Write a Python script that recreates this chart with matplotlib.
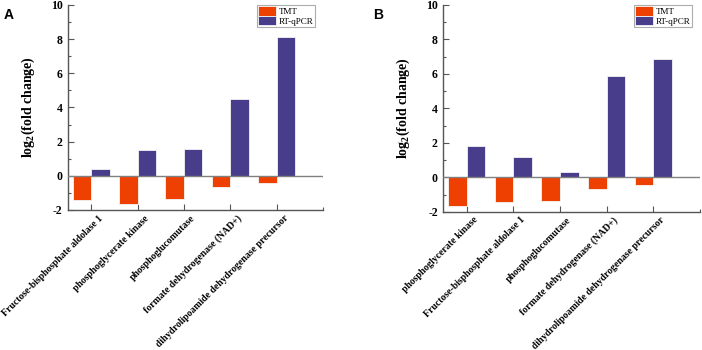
import numpy as np
import matplotlib
matplotlib.use("Agg")
import matplotlib.pyplot as plt
import matplotlib.transforms as mtransforms
from matplotlib.ticker import MultipleLocator, FixedLocator

# Panel A data
genes_a = ["Fructose-bisphosphate aldolase 1", "phosphoglycerate kinase",
           "phosphoglucomutase", "formate dehydrogenase (NAD+)",
           "dihydrolipoamide dehydrogenase precursor"]
tmt_a = [-1.40, -1.64, -1.36, -0.66, -0.43]
qpcr_a = [0.39, 1.50, 1.58, 4.48, 8.13]

# Panel B data
genes_b = ["phosphoglycerate kinase", "Fructose-bisphosphate aldolase 1",
           "phosphoglucomutase", "formate dehydrogenase (NAD+)",
           "dihydrolipoamide dehydrogenase precursor"]
tmt_b = [-1.66, -1.41, -1.37, -0.66, -0.43]
qpcr_b = [1.82, 1.18, 0.31, 5.86, 6.89]

serif = "Liberation Serif"
c_tmt = "#EE4000"
c_qpcr = "#483D8B"

plt.rcParams["axes.unicode_minus"] = False
plt.rcParams["mathtext.fontset"] = "custom"
plt.rcParams["mathtext.rm"] = "Liberation Serif:bold"
plt.rcParams["mathtext.it"] = "Liberation Serif:bold"
plt.rcParams["mathtext.bf"] = "Liberation Serif:bold"

fig = plt.figure(figsize=(7.02, 3.5), dpi=100)
ax_a = fig.add_axes([0.097, 0.40, 0.363, 0.586])
ax_b = fig.add_axes([0.6315, 0.395, 0.3655, 0.591])


def draw(ax, genes, tmt, qpcr):
    x = np.arange(1, len(genes) + 1)
    w = 0.4
    ax.bar(x - w / 2, tmt, w, color=c_tmt, edgecolor="#f4f4f4", linewidth=0.6, label="TMT", zorder=2)
    ax.bar(x + w / 2, qpcr, w, color=c_qpcr, edgecolor="#f4f4f4", linewidth=0.6, label="RT-qPCR", zorder=2)
    ax.axhline(0, color="#808080", linewidth=1.0, zorder=3)
    ax.set_xlim(0.5, 6.0)
    ax.set_ylim(-2, 10)
    for s in ["top", "right"]:
        ax.spines[s].set_visible(False)
    for s in ["left", "bottom"]:
        ax.spines[s].set_color("#555555")
        ax.spines[s].set_linewidth(1.0)
    ax.yaxis.set_major_locator(MultipleLocator(2))
    ax.yaxis.set_minor_locator(MultipleLocator(1))
    ax.set_xticks(x)
    ax.xaxis.set_minor_locator(FixedLocator([6.0]))
    ax.tick_params(axis="both", which="major", direction="in", length=4, width=0.8, color="#555555")
    ax.tick_params(axis="y", which="major", pad=4)
    ax.tick_params(axis="both", which="minor", direction="in", length=2.5, width=0.8, color="#555555")
    ax.set_xticklabels(genes, rotation=45, ha="right", va="center", rotation_mode="anchor",
                       fontsize=7, fontweight="bold", family=serif)
    offset = mtransforms.ScaledTranslation(0.10, -0.02, fig.dpi_scale_trans)
    for lab in ax.get_xticklabels():
        lab.set_transform(lab.get_transform() + offset)
    for lab in ax.get_yticklabels():
        lab.set_fontsize(8.5)
        lab.set_fontweight("bold")
        lab.set_family(serif)
    ax.set_ylabel("log$_2$(fold change)", fontsize=10, fontweight="bold", family=serif, labelpad=10)
    leg = ax.legend(loc="upper right", bbox_to_anchor=(0.97, 1.0), prop={"family": serif, "size": 6.5},
                    frameon=True, fancybox=False, edgecolor="#999999", borderpad=0.15,
                    handlelength=2.0, handleheight=1.2, handletextpad=0.3, labelspacing=0.0,
                    borderaxespad=0.0)
    leg.get_frame().set_linewidth(0.8)


draw(ax_a, genes_a, tmt_a, qpcr_a)
draw(ax_b, genes_b, tmt_b, qpcr_b)

fig.text(0.005, 0.978, "A", fontsize=10, fontweight="bold", family="Liberation Sans", va="top")
fig.text(0.531, 0.978, "B", fontsize=10, fontweight="bold", family="Liberation Sans", va="top")

fig.savefig("out.png", dpi=100)
